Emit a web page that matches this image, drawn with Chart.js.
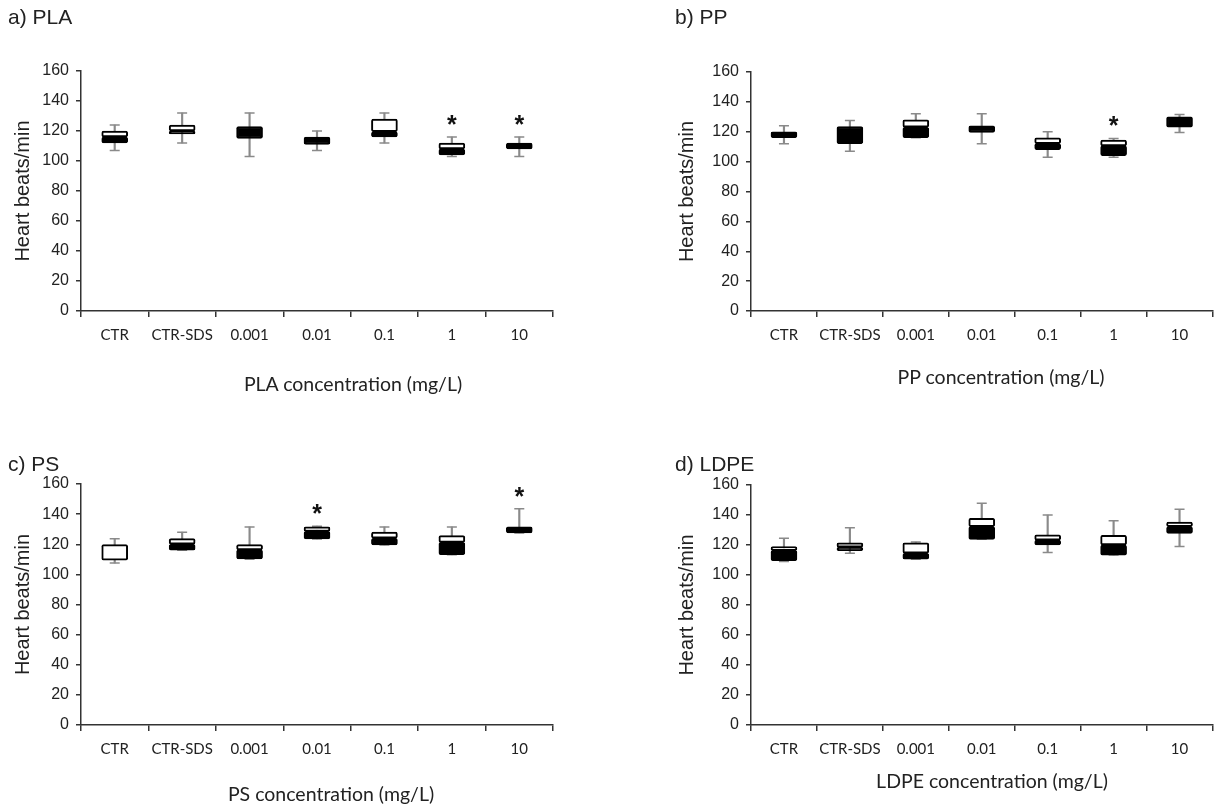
<!DOCTYPE html>
<html>
<head>
<meta charset="utf-8">
<script src="https://cdn.jsdelivr.net/npm/chart.js@4.4.1/dist/chart.umd.min.js"></script>
<style>
  html, body { margin: 0; padding: 0; background: #fff; }
  #wrap { position: relative; width: 1219px; height: 807px; overflow: hidden; }
  canvas { position: absolute; }
  .lbl { position: absolute; white-space: nowrap; color: #222; }
  .panel { font: 21px "Liberation Sans", Arial, sans-serif; }
  .xt { font: 19.5px Lato, "Open Sans", sans-serif; transform: translate(-50%, -50%); }
</style>
</head>
<body>
<div id="wrap">
  <canvas id="cA" width="600" height="400" style="left:0;top:0"></canvas>
  <canvas id="cB" width="619" height="400" style="left:600px;top:0"></canvas>
  <canvas id="cC" width="600" height="407" style="left:0;top:400px"></canvas>
  <canvas id="cD" width="619" height="407" style="left:600px;top:400px"></canvas>

  <div class="lbl panel" style="left:8px;top:5px">a)&nbsp;PLA</div>
  <div class="lbl panel" style="left:675px;top:5px">b)&nbsp;PP</div>
  <div class="lbl panel" style="left:8px;top:452px">c)&nbsp;PS</div>
  <div class="lbl panel" style="left:675px;top:452px">d)&nbsp;LDPE</div>

  <div class="lbl xt" style="left:353px;top:383px">PLA concentration (mg/L)</div>
  <div class="lbl xt" style="left:1001px;top:376px">PP concentration (mg/L)</div>
  <div class="lbl xt" style="left:331px;top:793px">PS concentration (mg/L)</div>
  <div class="lbl xt" style="left:992px;top:780px">LDPE concentration (mg/L)</div>
</div>
<script>
// categories and y ticks
const categories = ['CTR', 'CTR-SDS', '0.001', '0.01', '0.1', '1', '10'];
const yTickValues = [0, 20, 40, 60, 80, 100, 120, 140, 160];
const yTitle = 'Heart beats/min';

// box plot values (min, Q1, median, Q3, max), * = significant
const plaMin = [107, 112, 103, 107, 112, 103, 103];
const plaQ1  = [112, 118, 115, 111, 116, 104, 108];
const plaMed = [116, 120, 123, 116, 119.5, 108, 112];
const plaQ3  = [120, 124, 123, 116, 128, 112, 112];
const plaMax = [124, 132, 132, 120, 132, 116, 116];
const plaStar = [false, false, false, false, false, true, true];

const ppMin = [112, 107, 116, 112, 103, 103, 119.5];
const ppQ1  = [116, 112, 116, 119.5, 108, 104, 123];
const ppMed = [120, 123.5, 123, 124, 112, 110.5, 130];
const ppQ3  = [120, 123.5, 128, 124, 116, 114.5, 130];
const ppMax = [124, 127.5, 132, 132, 120, 115.5, 131.5];
const ppStar = [false, false, false, false, false, true, false];

const psMin = [107.5, 116, 110, 123.5, 119.5, 113, 127.5];
const psQ1  = [109.5, 116, 110.3, 123.5, 119.5, 113, 127.5];
const psMed = [109.5, 120, 116.3, 128.5, 124, 121.2, 131.5];
const psQ3  = [119.7, 123.7, 119.7, 131.5, 128, 125.7, 131.5];
const psMax = [123.7, 128, 131.5, 132, 131.5, 131.5, 143.5];
const psStar = [false, false, false, true, false, false, true];

const ldpeMin = [109, 114.5, 110.5, 123.8, 115, 113.3, 119];
const ldpeQ1  = [109.5, 116.2, 110.5, 123.8, 120, 113.3, 127.8];
const ldpeMed = [116.2, 118.5, 114.5, 132.2, 123.3, 120, 132.2];
const ldpeQ3  = [118.9, 121.5, 121.5, 137.8, 126.7, 126.5, 135.3];
const ldpeMax = [124.5, 131.5, 122, 147.8, 140, 136.2, 143.8];
const ldpeStar = [false, false, false, false, false, false, false];

const AXIS = '#333';
const WHISKER = '#8a8a8a';

// asterisks above the significant groups
const starPlugin = {
  id: 'stars',
  afterDatasetsDraw(chart, args, opts) {
    const { ctx, scales: { x, y } } = chart;
    ctx.save();
    ctx.font = 'bold 25px "Liberation Sans", Arial, sans-serif';
    ctx.fillStyle = '#111';
    ctx.textAlign = 'center';
    ctx.textBaseline = 'middle';
    opts.flags.forEach((on, i) => {
      if (!on) return;
      ctx.fillText('*', x.getPixelForValue(i), y.getPixelForValue(opts.tops[i]) - 11);
    });
    ctx.restore();
  }
};

function makePanel(id, mn, q1, md, q3, mx, stars, box) {
  const range = (a, b) => a.map((v, i) => [v, b[i]]);
  const cap = (data) => ({
    type: 'line', data, showLine: false, order: 4,
    pointStyle: 'line', pointRadius: 5, pointHoverRadius: 5,
    borderColor: WHISKER, pointBorderWidth: 1.5,
  });
  new Chart(document.getElementById(id), {
    type: 'bar',
    data: {
      labels: categories,
      datasets: [
        { data: range(mn, mx), backgroundColor: WHISKER, barThickness: 1.5, grouped: false, order: 3 },
        cap(mx),
        cap(mn),
        { data: range(q1, md), backgroundColor: '#000', borderColor: '#000', borderWidth: 2,
          borderSkipped: false, borderRadius: 2, barThickness: 26, grouped: false, order: 2 },
        { data: range(md, q3), backgroundColor: '#fff', borderColor: '#000', borderWidth: 2,
          borderSkipped: false, borderRadius: 2, barThickness: 26, grouped: false, order: 1 },
      ],
    },
    options: {
      responsive: false,
      animation: false,
      layout: { padding: { left: 0, top: box.top, right: box.right, bottom: 0 } },
      plugins: {
        legend: { display: false },
        tooltip: { enabled: false },
        stars: { flags: stars, tops: mx },
      },
      scales: {
        x: {
          offset: true,
          afterFit: (s) => { s.height = box.xh; },
          border: { color: AXIS, width: 1.5 },
          grid: { offset: true, drawOnChartArea: false, drawTicks: true, tickLength: 6, color: AXIS, lineWidth: 1.5 },
          ticks: { color: '#222', padding: 9, maxRotation: 0, autoSkip: false,
                   font: { family: 'Lato, "Open Sans", sans-serif', size: 15 } },
        },
        y: {
          min: 0, max: 160,
          afterBuildTicks: (s) => { s.ticks = yTickValues.map(v => ({ value: v })); },
          afterFit: (s) => { s.width = box.yw; },
          border: { color: AXIS, width: 1.5 },
          grid: { drawOnChartArea: false, drawTicks: true, tickLength: 5, color: AXIS, lineWidth: 1.5 },
          ticks: { color: '#222', padding: 7,
                   font: { family: '"Liberation Sans", Arial, sans-serif', size: 16 } },
          title: { display: true, text: yTitle, color: '#222', padding: { top: box.tp, bottom: 0 },
                   font: { family: '"Liberation Sans", Arial, sans-serif', size: 20 } },
        },
      },
    },
    plugins: [starPlugin],
  });
}

makePanel('cA', plaMin, plaQ1, plaMed, plaQ3, plaMax, plaStar, { top: 71, right: 47, xh: 89, yw: 81, tp: 11 });
makePanel('cB', ppMin, ppQ1, ppMed, ppQ3, ppMax, ppStar, { top: 72, right: 0, xh: 89, yw: 151, tp: 75 });
makePanel('cC', psMin, psQ1, psMed, psQ3, psMax, psStar, { top: 84, right: 47, xh: 82, yw: 81, tp: 11 });
makePanel('cD', ldpeMin, ldpeQ1, ldpeMed, ldpeQ3, ldpeMax, ldpeStar, { top: 85, right: 0, xh: 82, yw: 151, tp: 75 });
</script>
</body>
</html>
